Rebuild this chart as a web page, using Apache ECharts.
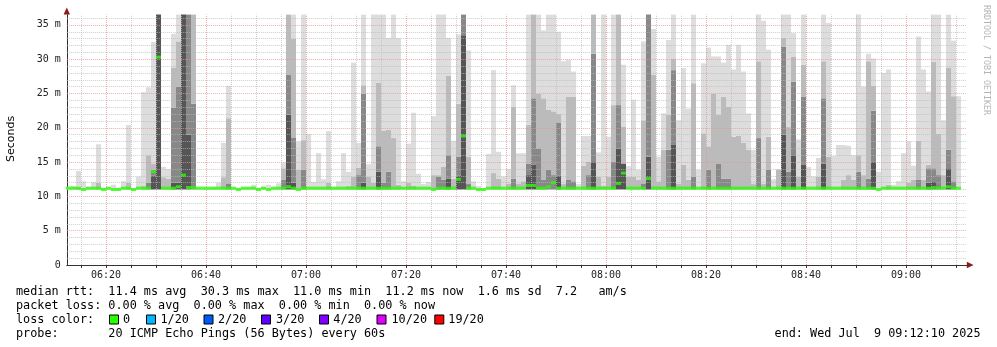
<!DOCTYPE html>
<html><head><meta charset="utf-8">
<script src="https://cdn.jsdelivr.net/npm/echarts@6/dist/echarts.min.js"></script>
<style>html,body{margin:0;padding:0;background:#fff}#c{width:997px;height:347px}</style>
</head><body><div id="c"></div>
<script>
// ---- data (one column per minute, first bucket starts 06:12) ----
const firstBucket = '06:12';
const rangeStart = '06:12:10';
const rangeEnd = '09:12:10';
const minRtt = 11.0;               // bottom of smoke (ms)
// top of lightest smoke band (max ping, ms)
const smokeMax = [
 11.4,11.5,13.7,12.2,11.4,12.1,17.6,11.3,11.2,11.7,
 11.3,12.2,20.4,11.2,12.9,25.2,25.9,32.5,40,14.3,
 14.0,33.7,40,40,40,40,11.2,11.2,11.2,11.3,
 12.0,17.8,26.1,11.2,11.3,11.2,11.3,11.7,11.3,11.4,
 11.7,11.2,11.9,14.9,40,40,18.0,40,19.1,12.1,
 16.3,12.5,19.5,11.3,12.2,16.3,13.6,29.5,17.8,40,
 14.7,40,40,40,33.1,40,33.1,12.2,17.7,22.2,
 13.3,11.8,12.1,21.7,40,40,33.1,18.1,33.6,40,
 31.3,12.2,11.5,11.2,16.2,28.4,16.5,12.9,14.0,26.2,
 16.3,16.3,40,40,40,34.2,40,40,34.0,29.7,
 29.9,28.2,11.8,18.8,18.8,40,16.4,40,18.7,40,
 40,29.2,14.4,24.1,13.9,32.6,40,34.4,15.8,22.1,
 32.8,40,21.1,28.7,22.8,40,13.9,29.4,31.7,30.4,
 30.4,29.5,32.1,28.5,32.1,28.2,22.1,16.8,40,35.6,
 31.4,12.5,14.0,40,40,33.8,18.3,40,14.3,12.9,
 15.6,40,35.3,15.9,17.5,17.5,17.4,16.0,40,26.0,
 30.8,30.1,13.6,28.0,28.5,11.7,12.2,16.3,18.0,14.5,
 33.3,28.5,25.3,40,40,21.1,40,32.7,24.6
];
// top of mid-gray band
const smokeMid = [
 0,0,11.4,0,0,0,12.0,0,0,0,
 0,0,12.0,0,0,11.5,16.0,14.8,40,12.8,
 12.6,28.8,32.6,40,40,40,0,0,0,0,
 0,12.8,21.4,0,0,0,0,0,0,0,
 0,0,0,14.1,40,33,13.9,18.2,0,0,
 0,0,12.0,0,0,0,11.5,12.9,14.2,26.2,
 12.9,12.0,26.6,19.6,19.7,18.5,11.7,0,12.0,11.6,
 0,0,0,13.1,13.1,14.3,27.6,12.6,23.5,40,
 15.8,0,0,0,0,13.4,12.6,0,11.9,23.1,
 11.9,12.2,20.4,40,25,24.3,22.6,22.4,22,11.8,
 24.5,24.5,0,14.5,15.1,40,12.9,11.5,12.9,23.3,
 40,20.2,12.9,12.9,12.4,21.1,40,27.7,12.2,16.8,
 21.9,30.1,11.9,14.6,12.4,26.5,0,19.2,17.3,25,
 21.9,24.5,23.1,18.7,18.8,17.8,16.8,11.8,29.7,11.8,
 18.7,0,13.9,33.1,20.1,30.4,12.9,29.2,0,0,
 12.9,29.7,15.8,0,0,12.4,13.1,12.4,16,13.1,
 29.7,26.1,0,0,11.7,0,0,0,12,12.4,
 18.1,12.4,14.6,29.6,19.1,13.1,28.8,24.6,0
];
// top of dark-gray band
const smokeDark = [
 0,0,0,0,0,0,0,0,0,0,
 0,0,0,0,0,0,12,13.9,40,0,
 0,22.9,26,40,40,23.5,0,0,0,0,
 0,0,11.9,0,0,0,0,0,0,0,
 0,0,0,12.4,27.7,18.6,0,13.9,0,0,
 0,0,0,0,0,0,0,0,13.1,25,
 0,0,17.3,12,13.6,0,0,0,0,0,
 0,0,0,0,12.9,12.4,16,0,15.8,40,
 11.8,0,0,0,0,0,0,0,0,12.6,
 0,0,14.8,24.3,17,12.4,13.9,13.1,20.7,0,
 12.4,12.2,0,0,13.1,30.8,0,0,0,15.1,
 23.3,14.8,0,0,0,11.9,40,0,0,0,
 16.8,28.4,0,0,0,12.9,0,0,13.9,0,
 14.8,12.6,12.6,0,0,0,0,0,18.5,0,
 13.9,0,0,31.8,13.6,26.7,0,24.5,0,0,
 0,24.3,0,0,0,0,0,0,13.6,0,
 12.6,22.5,0,0,0,0,0,0,0,0,
 12.4,0,14.1,14.1,13.1,0,16.8,12.2,0
];
// top of darkest band
const smokeDarkest = [
 0,0,0,0,0,0,0,0,0,0,
 0,0,0,0,0,0,0,13.0,40,0,
 0,12,12,40,19,0,0,0,0,0,
 0,0,0,0,0,0,0,0,0,0,
 0,0,0,0,21.9,12,0,0,0,0,
 0,0,0,0,0,0,0,0,0,12,
 0,0,13.6,0,0,0,0,0,0,0,
 0,0,0,0,0,0,12.6,0,13,33.5,
 0,0,0,0,0,0,0,0,0,0,
 0,0,13.1,14.6,0,0,0,0,13,0,
 0,0,0,0,0,15,0,0,0,0,
 17,14.8,0,0,0,0,15.8,0,0,0,
 0,17.5,0,0,0,0,0,0,0,0,
 0,0,0,0,0,0,0,0,0,0,
 0,0,0,19,0,16,0,14.6,0,0,
 0,14.8,0,0,0,0,0,0,0,0,
 0,15.1,0,0,0,0,0,0,0,0,
 0,0,12,12.2,0,0,14.1,0,0
];
// median rtt per minute (ms)
const median = [
 11.2,11.2,11.2,11.0,11.2,11.2,11.2,11.0,11.2,11.0,
 11.0,11.2,11.2,11.0,11.2,11.2,11.2,13.6,30.3,11.2,
 11.2,11.2,11.4,13.1,11.3,11.3,11.2,11.2,11.2,11.2,
 11.2,11.2,11.2,11.2,11.0,11.2,11.2,11.2,11.0,11.2,
 11.0,11.2,11.2,11.2,11.4,11.2,11.0,11.2,11.2,11.2,
 11.2,11.2,11.2,11.2,11.2,11.2,11.2,11.2,11.2,11.2,
 11.2,11.2,11.2,11.2,11.2,11.2,11.2,11.2,11.2,11.2,
 11.2,11.2,11.2,11.0,11.2,11.2,11.2,11.2,12.5,18.8,
 11.2,11.2,11.0,11.0,11.2,11.2,11.2,11.2,11.2,11.2,
 11.2,11.2,11.6,11.6,11.2,11.2,11.4,12.0,11.2,11.2,
 11.2,11.2,11.2,11.2,11.2,11.2,11.2,11.2,11.2,11.2,
 11.9,13.4,11.2,11.2,11.2,11.2,12.6,11.2,11.2,11.2,
 11.2,11.2,11.2,11.2,11.2,11.2,11.2,11.2,11.2,11.2,
 11.2,11.2,11.2,11.2,11.2,11.2,11.2,11.2,11.2,11.2,
 11.2,11.2,11.2,11.2,11.2,11.2,11.2,11.2,11.2,11.2,
 11.2,11.2,11.2,11.2,11.2,11.2,11.2,11.2,11.2,11.2,
 11.2,11.2,11.0,11.2,11.2,11.2,11.2,11.2,11.2,11.2,
 11.2,11.2,11.2,11.3,11.2,11.2,11.4,11.2,11.2
];
const xLabelTicks = ['06:20','06:40','07:00','07:20','07:40','08:00','08:20','08:40','09:00'];
const yLabelTicks = [0,5,10,15,20,25,30,35];
const lossLegend = ['0','1/20','2/20','3/20','4/20','10/20','19/20'];
const lossColors = ['#26ff00','#00b8ff','#0059ff','#5e00ff','#7e00ff','#dd00ff','#ff0000'];

// ---- build ----
const toMin = s => { const p = s.split(':').map(Number); return p[0]*60 + p[1] + (p[2]||0)/60; };
const pad = n => (n<10?'0':'') + n;
const fmt = v => pad(Math.floor(v/60)) + ':' + pad(Math.round(v%60));
const x0 = toMin(firstBucket);
const xMin = toMin(rangeStart), xMax = toMin(rangeEnd);
const xs = smokeMax.map((_, i) => x0 + i + 0.5);
const smokeData = xs.map((x, i) => {
  const t0 = minRtt;
  const t1 = Math.max(t0, smokeDarkest[i]);
  const t2 = Math.max(t1, smokeDark[i]);
  const t3 = Math.max(t2, smokeMid[i]);
  const t4 = Math.max(t3, smokeMax[i]);
  return [x, t0, t1, t2, t3, t4];
});
const bandColors = [null, '#555555', '#888888', '#bbbbbb', '#dddddd'];

const majorX = xLabelTicks.map(toMin);
const minorX = [];
for (let m = Math.ceil(xMin/5)*5; m < xMax; m += 5) minorX.push(m);
const minorStyle = {color: 'rgba(185,185,185,0.7)', type: [1,1], width: 1};
const majorStyle = {color: 'rgba(235,150,150,0.8)', type: [1,1], width: 1};
const gridLines = [];
minorX.forEach(m => { if (!majorX.includes(m)) gridLines.push({xAxis: m, lineStyle: minorStyle}); });
for (let v = 1; v <= 36; v++) { if (v % 5) gridLines.push({yAxis: v, lineStyle: minorStyle}); }
majorX.forEach(m => gridLines.push({xAxis: m, lineStyle: majorStyle}));
yLabelTicks.forEach(v => { if (v > 0) gridLines.push({yAxis: v, lineStyle: majorStyle}); });

function renderSmoke(params, api) {
  const cs = params.coordSys;
  const clip = {x: cs.x, y: cs.y, width: cs.width, height: cs.height};
  const x = api.value(0);
  const children = [];
  for (let j = 1; j <= 4; j++) {
    const lo = api.value(j), hi = api.value(j + 1);
    if (hi <= lo) continue;
    const p1 = api.coord([x - 0.5, hi]);
    const p2 = api.coord([x + 0.5, lo]);
    const l = Math.round(p1[0]), r = Math.round(p2[0]);
    const shape = echarts.graphic.clipRectByRect({x: l, y: p1[1], width: r - l, height: p2[1] - p1[1]}, clip);
    if (shape) children.push({type: 'rect', shape: shape, style: {fill: bandColors[j]}});
  }
  return {type: 'group', children: children};
}

const series = [
  {type: 'custom', data: smokeData, renderItem: renderSmoke, encode: {x: 0, y: [1,2,3,4,5]}, silent: true, z: 2, animation: false},
  {type: 'line', data: [], silent: true, z: 4,
   markLine: {silent: true, symbol: ['none','none'], label: {show: false}, animation: false, z: 4, data: gridLines}},
  {type: 'scatter', data: xs.map((x, i) => [x, median[i]]), symbol: 'rect', symbolSize: [5,3],
   itemStyle: {color: lossColors[0]}, z: 10, silent: true, animation: false}
];

const mono = '"DejaVu Sans Mono", monospace';
const tFont = '11.8px ' + mono;
const graphic = [
  {type:'text', x:11, y:139, rotation: Math.PI/2, style:{text:'Seconds', font:'11px "DejaVu Sans"', fill:'#000', align:'center', verticalAlign:'middle'}},
  {type:'text', x:986.5, y:5, rotation: -Math.PI/2, style:{text:'RRDTOOL / TOBI OETIKER', font:'8.3px ' + mono, fill:'#b4b4b4', align:'left', verticalAlign:'middle'}},
  {type:'polygon', shape:{points:[[66.8,7.5],[63.6,14.6],[70,14.6]]}, style:{fill:'#8b1a1a'}},
  {type:'polygon', shape:{points:[[973.5,265],[966.8,261.8],[966.8,268.2]]}, style:{fill:'#8b1a1a'}},
  {type:'text', x:16, y:291.5, style:{text:'median rtt:  11.4 ms avg  30.3 ms max  11.0 ms min  11.2 ms now  1.6 ms sd  7.2   am/s', font:tFont, fill:'#000', verticalAlign:'middle'}},
  {type:'text', x:16, y:305.5, style:{text:'packet loss: 0.00 % avg  0.00 % max  0.00 % min  0.00 % now', font:tFont, fill:'#000', verticalAlign:'middle'}},
  {type:'text', x:16, y:319.5, style:{text:'loss color:', font:tFont, fill:'#000', verticalAlign:'middle'}},
  {type:'text', x:16, y:333.5, style:{text:'probe:       20 ICMP Echo Pings (56 Bytes) every 60s', font:tFont, fill:'#000', verticalAlign:'middle'}},
  {type:'text', x:980.5, y:333.5, style:{text:'end: Wed Jul  9 09:12:10 2025', font:tFont, fill:'#000', align:'right', verticalAlign:'middle'}}
];
const boxX = [109, 146, 203.5, 261, 319, 376.5, 434.3];
const labX = [123, 160.5, 218, 276, 333.3, 391.5, 448.3];
lossLegend.forEach((t, i) => {
  graphic.push({type:'rect', shape:{x:boxX[i]+0.5, y:315, width:9, height:9}, style:{fill:lossColors[i], stroke:'#000', lineWidth:1}});
  graphic.push({type:'text', x:labX[i], y:319.5, style:{text:t, font:tFont, fill:'#000', verticalAlign:'middle'}});
});

const chart = echarts.init(document.getElementById('c'), null, {renderer:'canvas'});
chart.setOption({
  animation: false,
  backgroundColor: '#ffffff',
  grid: {left: 66.8, right: 30.2, top: 14.6, bottom: 82, containLabel: false},
  xAxis: {
    type: 'value', min: xMin, max: xMax,
    axisLine: {show: true, onZero: false, lineStyle: {color: '#333'}},
    splitLine: {show: false},
    axisTick: {show: true, customValues: minorX, length: 3, lineStyle: {color: '#333'}},
    axisLabel: {customValues: majorX, formatter: v => fmt(v), margin: 5, fontFamily: mono, fontSize: 10, color: '#222'}
  },
  yAxis: {
    type: 'value', min: 0, max: 36.5, interval: 5,
    axisLine: {show: true, lineStyle: {color: '#333'}},
    axisTick: {show: false}, splitLine: {show: false},
    axisLabel: {formatter: v => (v % 5 ? '' : (v === 0 ? '0' : v + ' m')), margin: 6, fontFamily: mono, fontSize: 10, color: '#222'}
  },
  graphic: graphic,
  series: series
});
</script></body></html>
